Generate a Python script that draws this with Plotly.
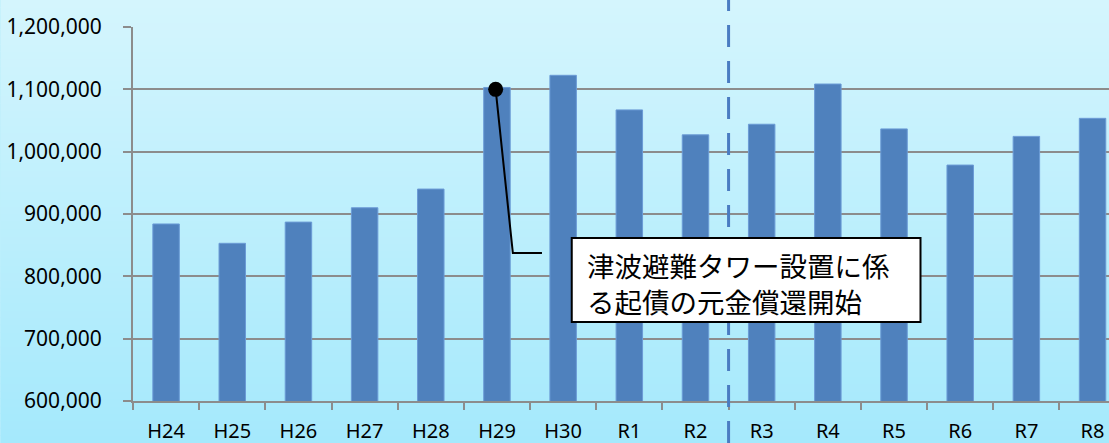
import plotly.graph_objects as go

# ---- data ----
categories = ["H24", "H25", "H26", "H27", "H28", "H29", "H30", "R1", "R2",
              "R3", "R4", "R5", "R6", "R7", "R8"]
values = [884000, 853000, 887000, 910000, 940000, 1103000, 1122500, 1067000,
          1027000, 1044000, 1108500, 1036500, 978500, 1024500, 1053500]
y_ticks = [600000, 700000, 800000, 900000, 1000000, 1100000, 1200000]
callout_lines = ["津波避難タワー設置に係", "る起債の元金償還開始"]
callout_category = "H29"
callout_value = 1100000
divider_after = "R2"

W, H = 1109, 443
ML, MR, MT, MB = 132.5, 0, 27, 42
cat_w = 66.21
plot_w = W - ML - MR
x_end = -0.5 + plot_w / cat_w
idx = list(range(len(categories)))

fig = go.Figure()
fig.add_trace(go.Bar(
    x=idx, y=values, width=0.4,
    marker=dict(color="#4f81bd", line=dict(color="#6b9bd6", width=1)),
    hoverinfo="skip", showlegend=False,
))

# callout leader line
ci = categories.index(callout_category)
fig.add_trace(go.Scatter(
    x=[ci - 0.02, ci + 0.24, ci + 0.68],
    y=[callout_value, 837400, 837400],
    mode="lines", line=dict(color="black", width=2),
    hoverinfo="skip", showlegend=False, cliponaxis=False,
))
fig.add_trace(go.Scatter(
    x=[ci - 0.02], y=[callout_value], mode="markers",
    marker=dict(color="black", size=15),
    hoverinfo="skip", showlegend=False, cliponaxis=False,
))

shapes = []
# background gradient
plot_h = H - MT - MB
top_c = (212, 245, 253)
bot_c = (165, 233, 252)
n = 60
py0 = -MB / plot_h
py1 = 1 + MT / plot_h
px0 = -ML / plot_w
for k in range(n):
    t = k / (n - 1)
    c = tuple(round(bot_c[j] + (top_c[j] - bot_c[j]) * t) for j in range(3))
    shapes.append(dict(
        type="rect", xref="paper", yref="paper", layer="below",
        x0=px0, x1=1.01, y0=py0 + (py1 - py0) * k / n - 0.001,
        y1=py0 + (py1 - py0) * (k + 1) / n + 0.001,
        fillcolor="rgb(%d,%d,%d)" % c, line=dict(width=0),
    ))
# divider dashed line
di = categories.index(divider_after) + 0.5
shapes.append(dict(
    type="line", xref="x", yref="paper", x0=di, x1=di, y0=py0, y1=py1,
    line=dict(color="#4a7cc2", width=3, dash="22px,14px"), layer="above",
))
# callout box
shapes.append(dict(
    type="rect", xref="x", yref="y", x0=6.13, x1=11.40, y0=726700, y1=861500,
    fillcolor="white", line=dict(color="black", width=2), layer="above",
))

annotations = [dict(
    x=6.335, y=788800, xref="x", yref="y", text="<br>".join(callout_lines),
    showarrow=False, xanchor="left", yanchor="middle", align="left",
    font=dict(family="Noto Sans CJK JP", size=27.5, color="black"),
)]

fig.update_layout(
    width=W, height=H,
    margin=dict(l=ML, r=MR, t=MT, b=MB, pad=0),
    paper_bgcolor="rgb(190,239,252)",
    plot_bgcolor="rgba(0,0,0,0)",
    shapes=shapes, annotations=annotations,
    font=dict(family="Noto Sans", color="black"),
    bargap=0.6,
)
fig.update_xaxes(
    range=[-0.5, x_end], tickmode="array",
    tickvals=idx, ticktext=categories, automargin=False,
    showline=True, linecolor="#8c8c8c", linewidth=2,
    ticks="", showgrid=False, tickfont=dict(size=20), ticklabelstandoff=11,
    minor=dict(tickvals=[i - 0.5 for i in idx] + [len(idx) - 0.5],
               ticks="outside", ticklen=7, tickwidth=2, tickcolor="#8c8c8c",
               showgrid=False),
)
fig.update_yaxes(
    range=[600000, 1200000], tickvals=y_ticks, tickformat=",d",
    automargin=False,
    showline=True, linecolor="#8c8c8c", linewidth=2,
    ticks="outside", ticklen=8, tickwidth=2, tickcolor="#8c8c8c",
    showgrid=True, gridcolor="#8c8c8c", gridwidth=2,
    tickfont=dict(size=21), ticklabelstandoff=17, zeroline=False,
)
fig.write_html(
    "out.html",
    config={"displayModeBar": False},
    post_script="document.body.style.margin='0';document.body.style.overflow='hidden';",
)
